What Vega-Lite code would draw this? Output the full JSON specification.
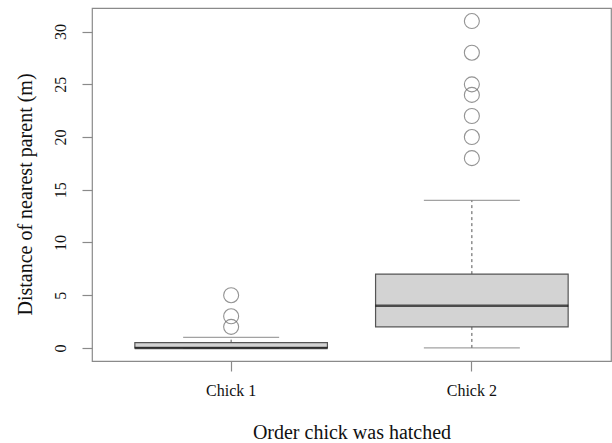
{
  "$schema": "https://vega.github.io/schema/vega-lite/v6.json",
  "width": 519,
  "height": 353,
  "autosize": {"type": "none"},
  "padding": {"left": 92, "top": 8, "right": 1, "bottom": 82},
  "background": "white",
  "config": {
    "view": {"stroke": "#8a8a8a", "strokeWidth": 1.2},
    "font": "Liberation Serif",
    "axis": {
      "grid": false,
      "domain": false,
      "tickColor": "#8a8a8a",
      "tickSize": 10,
      "tickWidth": 1.2,
      "labelFont": "Liberation Serif",
      "labelFontSize": 16,
      "labelColor": "#111111",
      "titleFont": "Liberation Serif",
      "titleFontSize": 20,
      "titleFontWeight": "normal",
      "titleColor": "#111111"
    }
  },
  "datasets": {
    "boxes": [
      {"group": "Chick 1", "lower": 0, "q1": 0, "median": 0, "q3": 0.5, "upper": 1},
      {"group": "Chick 2", "lower": 0, "q1": 2, "median": 4, "q3": 7, "upper": 14}
    ],
    "outliers": [
      {"group": "Chick 1", "distance": 2},
      {"group": "Chick 1", "distance": 3},
      {"group": "Chick 1", "distance": 5},
      {"group": "Chick 2", "distance": 18},
      {"group": "Chick 2", "distance": 20},
      {"group": "Chick 2", "distance": 22},
      {"group": "Chick 2", "distance": 24},
      {"group": "Chick 2", "distance": 25},
      {"group": "Chick 2", "distance": 28},
      {"group": "Chick 2", "distance": 31}
    ]
  },
  "encoding": {
    "x": {
      "field": "group",
      "type": "nominal",
      "scale": {"type": "band", "domain": ["Chick 1", "Chick 2"], "paddingInner": 0.2, "paddingOuter": 0.178},
      "axis": {
        "title": "Order chick was hatched",
        "labelAngle": 0,
        "labelPadding": 11,
        "titleY": 77,
        "titleBaseline": "alphabetic"
      }
    }
  },
  "layer": [
    {
      "data": {"name": "boxes"},
      "mark": {"type": "rule", "color": "#555555", "strokeWidth": 1, "strokeDash": [3, 3]},
      "encoding": {
        "y": {
          "field": "q3",
          "type": "quantitative",
          "scale": {"domain": [-1.24, 32.24], "nice": false, "zero": false},
          "axis": {
            "title": "Distance of nearest parent (m)",
            "values": [0, 5, 10, 15, 20, 25, 30],
            "labelAngle": -90,
            "labelAlign": "center",
            "labelBaseline": "middle",
            "labelPadding": 22,
            "titleAngle": -90,
            "titleX": -61,
            "titleY": 186,
            "titleAlign": "center",
            "titleBaseline": "alphabetic"
          }
        },
        "y2": {"field": "upper"}
      }
    },
    {
      "data": {"name": "boxes"},
      "mark": {"type": "rule", "color": "#555555", "strokeWidth": 1, "strokeDash": [3, 3]},
      "encoding": {
        "y": {"field": "lower", "type": "quantitative"},
        "y2": {"field": "q1"}
      }
    },
    {
      "data": {"name": "boxes"},
      "mark": {"type": "tick", "color": "#7a7a7a", "size": 96, "thickness": 1.3},
      "encoding": {"y": {"field": "upper", "type": "quantitative"}}
    },
    {
      "data": {"name": "boxes"},
      "mark": {"type": "tick", "color": "#7a7a7a", "size": 96, "thickness": 1.3},
      "encoding": {"y": {"field": "lower", "type": "quantitative"}}
    },
    {
      "data": {"name": "boxes"},
      "mark": {"type": "bar", "fill": "#d3d3d3", "stroke": "#555555", "strokeWidth": 1.2},
      "encoding": {
        "y": {"field": "q1", "type": "quantitative"},
        "y2": {"field": "q3"}
      }
    },
    {
      "data": {"name": "boxes"},
      "mark": {"type": "tick", "color": "#111111", "size": 193, "thickness": 2.4},
      "encoding": {"y": {"field": "median", "type": "quantitative"}}
    },
    {
      "data": {"name": "outliers"},
      "mark": {"type": "point", "shape": "circle", "filled": false, "stroke": "#666666", "strokeWidth": 1.1, "size": 225},
      "encoding": {"y": {"field": "distance", "type": "quantitative"}}
    }
  ]
}
